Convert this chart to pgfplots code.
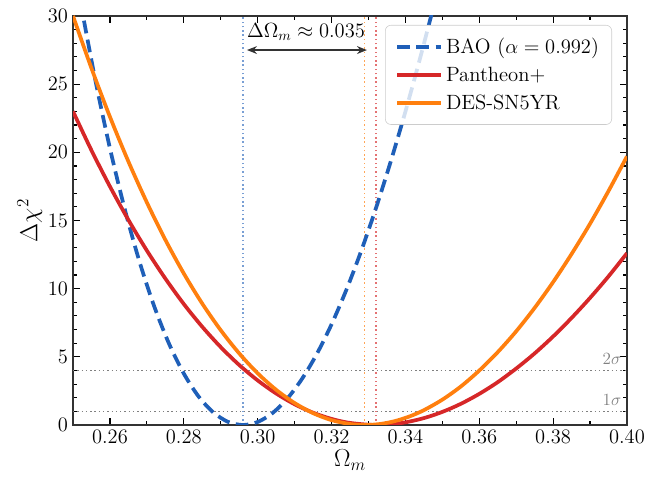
\documentclass[border=0pt]{standalone}
\usepackage{pgfplots}
\pgfplotsset{compat=1.18}
\usetikzlibrary{arrows.meta}

\definecolor{baoblue}{RGB}{31,95,184}
\definecolor{panred}{RGB}{214,39,40}
\definecolor{desorange}{RGB}{255,127,14}
\definecolor{annot}{RGB}{51,51,51}

\begin{document}
\begin{tikzpicture}
% fix the page to the reference's frame (axis box at origin)
\useasboundingbox (-0.709in,-0.505in) rectangle (5.689in,4.126in);
\begin{axis}[
    scale only axis,
    width=5.378in, height=3.971in,
    xmin=0.25, xmax=0.40,
    ymin=0, ymax=30,
    xtick={0.26,0.28,...,0.40},
    ytick={0,5,...,30},
    minor x tick num=1,
    minor y tick num=4,
    xticklabel style={/pgf/number format/.cd, fixed, fixed zerofill, precision=2},
    tick align=inside,
    major tick length=5pt,
    minor tick length=3pt,
    every tick/.style={black, line width=0.8pt},
    axis line style={line width=0.9pt, black!80},
    ticklabel style={font=\fontsize{14}{16}\selectfont},
    xlabel={$\Omega_m$},
    ylabel={$\Delta\chi^2$},
    label style={font=\fontsize{17.5}{20}\selectfont},
    xlabel style={at={(axis description cs:0.5,-0.085)}, anchor=center},
    ylabel style={at={(axis description cs:-0.078,0.5)}, anchor=center},
    legend style={at={(axis description cs:0.973,0.978)}, anchor=north east,
        draw=black!20, rounded corners=4pt, fill=white, fill opacity=0.8,
        text opacity=1, font=\fontsize{14.5}{17}\selectfont,
        inner xsep=7pt, inner ysep=7pt, row sep=4pt},
    legend cell align=left,
    legend image code/.code={\draw[#1] (0pt,0pt) -- (31pt,0pt);},
]
% reference lines
\addplot[gray, line width=0.7pt, dash pattern=on 1pt off 2pt, forget plot] coordinates {(0.25,1) (0.40,1)};
\addplot[gray, line width=0.7pt, dash pattern=on 1pt off 2pt, forget plot] coordinates {(0.25,4) (0.40,4)};
\addplot[baoblue!60, line width=0.9pt, dash pattern=on 1pt off 2pt, forget plot] coordinates {(0.296,0) (0.296,30)};
\addplot[desorange!70, line width=0.9pt, dash pattern=on 1pt off 2pt, forget plot] coordinates {(0.329,0) (0.329,30)};
\addplot[panred!65, line width=1pt, dash pattern=on 1pt off 2pt, forget plot] coordinates {(0.332,0) (0.332,30)};

% BAO
\addplot[baoblue, line width=2.6pt, smooth, dash pattern=on 9pt off 4.5pt] coordinates {
(0.252,31.04) (0.256,25.35) (0.260,20.29) (0.264,15.84) (0.268,11.98)
(0.272,8.69) (0.276,5.96) (0.280,3.77) (0.284,2.09) (0.288,0.917)
(0.292,0.226) (0.296,0) (0.300,0.220) (0.304,0.869) (0.308,1.93)
(0.312,3.38) (0.316,5.20) (0.320,7.38) (0.324,9.90) (0.328,12.74)
(0.332,15.88) (0.336,19.30) (0.340,22.98) (0.344,26.92) (0.348,31.08)
};
\addlegendentry{BAO ($\alpha=0.992$)}

% Pantheon+
\addplot[panred, line width=2.6pt, smooth] coordinates {
(0.250,23.0) (0.255,20.14) (0.260,17.49) (0.265,15.04) (0.270,12.79)
(0.275,10.74) (0.280,8.87) (0.285,7.20) (0.290,5.71) (0.295,4.40)
(0.300,3.27) (0.305,2.31) (0.310,1.52) (0.315,0.90) (0.320,0.446)
(0.325,0.151) (0.332,0) (0.339,0.147) (0.345,0.504) (0.350,0.958)
(0.355,1.55) (0.360,2.28) (0.365,3.14) (0.370,4.14) (0.375,5.25)
(0.380,6.49) (0.385,7.85) (0.390,9.32) (0.395,10.90) (0.400,12.60)
};
\addlegendentry{Pantheon+}

% DES-SN5YR
\addplot[desorange, line width=2.6pt, smooth] coordinates {
(0.250,30.0) (0.255,26.16) (0.260,22.60) (0.265,19.32) (0.270,16.32)
(0.275,13.58) (0.280,11.11) (0.285,8.90) (0.290,6.95) (0.295,5.25)
(0.300,3.79) (0.305,2.58) (0.310,1.61) (0.315,0.866) (0.320,0.355)
(0.325,0.070) (0.329,0) (0.333,0.069) (0.337,0.274) (0.341,0.614)
(0.345,1.085) (0.350,1.856) (0.355,2.82) (0.360,3.99) (0.365,5.34)
(0.370,6.87) (0.375,8.59) (0.380,10.48) (0.385,12.54) (0.390,14.76)
(0.395,17.16) (0.400,19.70)
};
\addlegendentry{DES-SN5YR}

% annotations
\draw[annot, line width=1.5pt, {Stealth[length=7pt,width=5.5pt]}-{Stealth[length=7pt,width=5.5pt]}]
    (axis cs:0.2971,27.5) -- (axis cs:0.3296,27.5);
\node[font=\fontsize{14.5}{16}\selectfont, inner sep=0pt] at (axis cs:0.3131,28.85) {$\Delta\Omega_m \approx 0.035$};
\node[gray, font=\fontsize{11.5}{13}\selectfont, anchor=east, inner sep=0pt] at (axis cs:0.3985,4.85) {$2\sigma$};
\node[gray, font=\fontsize{11.5}{13}\selectfont, anchor=east, inner sep=0pt] at (axis cs:0.3985,1.83) {$1\sigma$};
\end{axis}
\end{tikzpicture}
\end{document}
